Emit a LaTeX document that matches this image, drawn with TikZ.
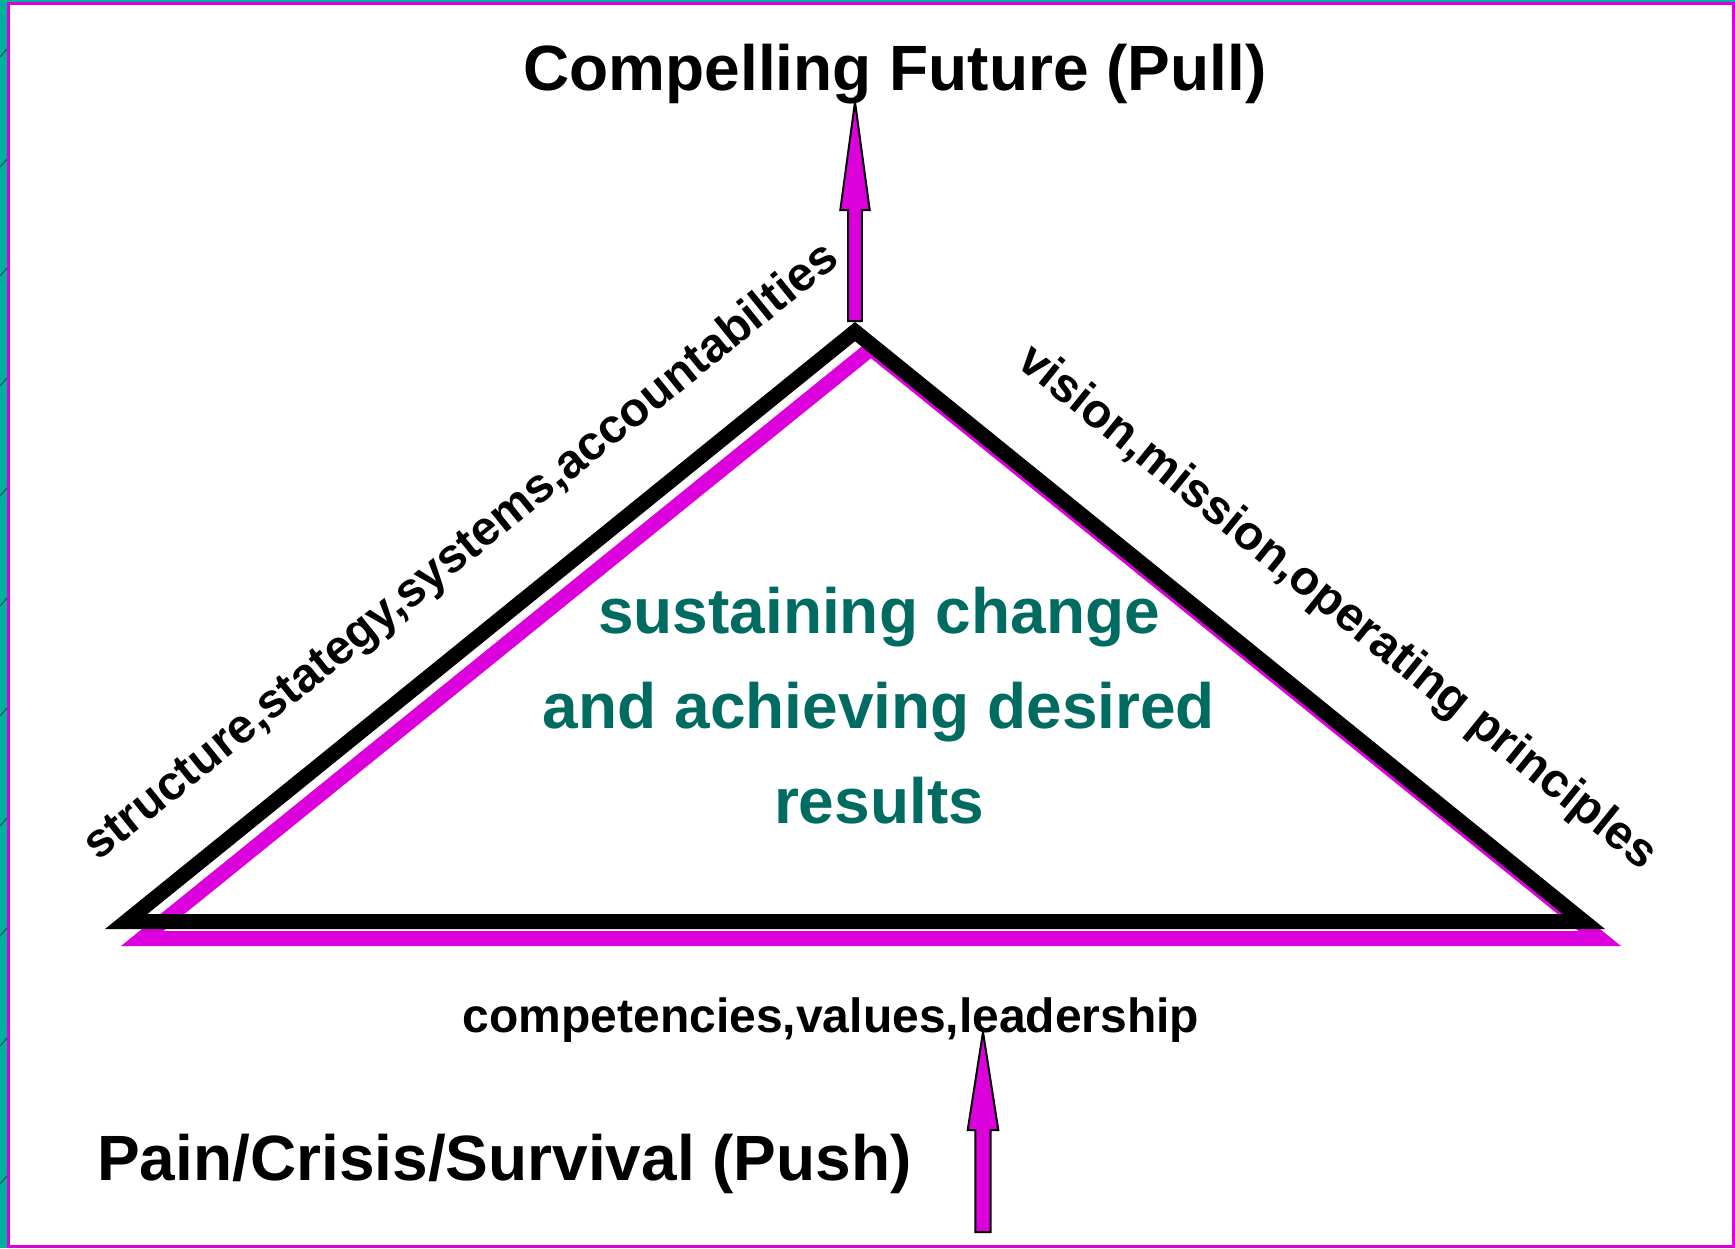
\documentclass[tikz,border=0pt]{standalone}
\usepackage{fontspec}
\setmainfont{Liberation Sans}
\usetikzlibrary{calc}

\definecolor{rimmagenta}{RGB}{220,0,220}
\definecolor{deepteal}{RGB}{0,107,96}
\definecolor{stripteal}{RGB}{0,178,158}
\definecolor{stripmark}{RGB}{0,105,90}

\tikzset{
  bigtext/.style={font=\fontsize{64}{95}\selectfont\bfseries, inner sep=0pt},
  sidetext/.style={font=\fontsize{48}{58}\selectfont\bfseries, inner sep=0pt},
  blockarrow/.style={fill=rimmagenta, draw=black, line width=2pt, line join=miter},
  rim/.style={line width=15pt, line join=miter},
}

\begin{document}
\begin{tikzpicture}[x=1pt, y=-1pt]
  \useasboundingbox (0,0) rectangle (1735,1248);

  % backdrop strip and framed page
  \fill[stripteal] (0,0) rectangle (1735,1248);
  \foreach \yy in {53,163,272,382,492,602,712,822,932,1042,1180}
    \draw[stripmark, line width=1.5pt] (0,\yy+4) -- (7,\yy-4);
  \draw[rimmagenta, fill=white, line width=3pt] (8.5,3.5) rectangle (1733.5,1246.5);

  % triangle corners (centre line of the rim)
  \coordinate (left)  at (126.2,921.5);
  \coordinate (apex)  at (855,331.6);
  \coordinate (right) at (1583.8,921.5);

  % offset magenta shadow, then the black rim
  \draw[rim, rimmagenta]
    ($(left)+(16,17)$) -- ($(apex)+(16,17)$) -- ($(right)+(16,17)$) -- cycle;
  \draw[rim, black] (left) -- (apex) -- (right) -- cycle;

  % headings
  \node[bigtext, anchor=base] (pull) at (895,90) {Compelling Future (Pull)};
  \node[bigtext, anchor=base west] (push) at (97,1180) {Pain/Crisis/Survival (Push)};

  % centre statement
  \node[bigtext, text=deepteal, anchor=base] (goal1) at (879,633) {sustaining change};
  \node[bigtext, text=deepteal, anchor=base] (goal2) at (879,728) {and achieving desired};
  \node[bigtext, text=deepteal, anchor=base] (goal3) at (879,823) {results};

  % side labels
  \node[sidetext, anchor=base, rotate=38.9] (leftside) at (469.8,562.4)
    {structure,stategy,systems,accountabilties};
  \node[sidetext, anchor=base, rotate=-38.9] (rightside) at (1329,618)
    {vision,mission,operating principles};
  \node[sidetext, anchor=base] (baseside) at (831,1032)
    {competencies,values,leadership};

  % block arrows
  \coordinate (pullfoot) at (855,321);
  \coordinate (pulltip)  at (855,102);
  \draw[blockarrow]
    ($(pullfoot)+(-6.8,0)$) -- ($(pulltip)+(-6.8,108)$) -- ($(pulltip)+(-14.7,108)$)
    -- (pulltip) -- ($(pulltip)+(14.7,108)$) -- ($(pulltip)+(6.8,108)$)
    -- ($(pullfoot)+(6.8,0)$) -- cycle;

  \coordinate (pushfoot) at (983,1232);
  \coordinate (pushtip)  at (983,1032);
  \draw[blockarrow]
    ($(pushfoot)+(-7.7,0)$) -- ($(pushtip)+(-7.7,98)$) -- ($(pushtip)+(-15.3,98)$)
    -- (pushtip) -- ($(pushtip)+(15.3,98)$) -- ($(pushtip)+(7.7,98)$)
    -- ($(pushfoot)+(7.7,0)$) -- cycle;
\end{tikzpicture}
\end{document}
